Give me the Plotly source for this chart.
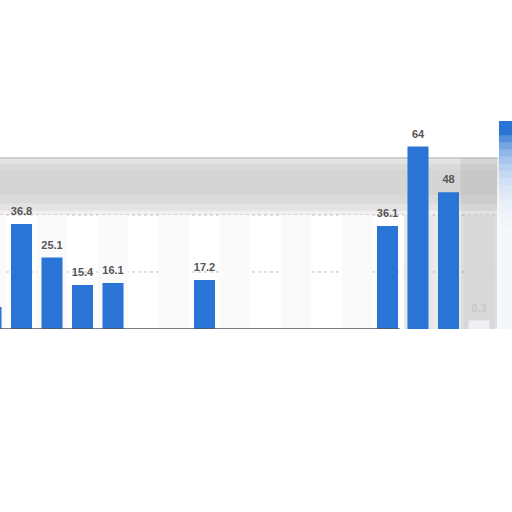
import plotly.graph_objects as go

# slot index of each bar position (chart is cropped on both sides)
slots = [-1, 0, 1, 2, 3, 4, 5, 6, 7, 8, 9, 10, 11, 12, 13, 14, 15, 16]
values = [7.7, 36.8, 25.1, 15.4, 16.1, None, None, 17.2, None, None, None, None, None, 36.1, 64, 48, 3, 73]
labels = ["", "36.8", "25.1", "15.4", "16.1", "", "", "17.2", "", "", "", "", "", "36.1", "64", "48", "0.3", ""]
grid_values = [20, 40]

BLUE = "#2a74d5"
X0, X1 = -0.705, 16.082
Y1 = 115.4

colors = [BLUE] * len(slots)
colors[slots.index(15)] = "#eef0f3"
label_colors = ["#555555"] * len(slots)
label_colors[slots.index(15)] = "#c8c8c8"

fig = go.Figure()
fig.add_trace(go.Bar(
    x=slots, y=values, width=0.69,
    marker=dict(color=colors, line=dict(width=0)),
    hoverinfo="skip",
))
fig.add_trace(go.Scatter(
    x=slots, y=values, mode="markers+text",
    marker=dict(size=8, color="rgba(0,0,0,0)"),
    text=labels, textposition="top center", cliponaxis=False,
    textfont=dict(family="Liberation Sans", size=11, color=label_colors, weight="bold"),
    hoverinfo="skip",
))

shapes = []
# faint alternating column shading
for s in range(-1, 17, 2):
    shapes.append(dict(type="rect", xref="x", yref="y", x0=s - 0.5, x1=s + 0.5, y0=0, y1=40,
                       fillcolor="#fafafa", line=dict(width=0), layer="below"))
# blurred grey band between 40 and 60
for (a, b, op) in [(40, 60, 0.06), (41.5, 59.5, 0.05), (44, 58, 0.04), (47, 56, 0.02)]:
    shapes.append(dict(type="rect", xref="paper", yref="y", x0=0, x1=1, y0=a, y1=b,
                       fillcolor=f"rgba(0,0,0,{op})", line=dict(width=0), layer="below"))
# grey blurred area on the right
shapes.append(dict(type="rect", xref="x", yref="y", x0=12.55, x1=15.7, y0=0, y1=40,
                   fillcolor="rgba(0,0,0,0.08)", line=dict(width=0), layer="below"))
shapes.append(dict(type="rect", xref="x", yref="y", x0=14.4, x1=15.7, y0=0, y1=60,
                   fillcolor="rgba(0,0,0,0.06)", line=dict(width=0), layer="below"))
# line at 60
shapes.append(dict(type="line", xref="paper", yref="y", x0=0, x1=0.975, y0=60, y1=60,
                   line=dict(color="#c2c2c2", width=1.5), layer="below"))
# dotted gridlines
for g in grid_values:
    shapes.append(dict(type="line", xref="paper", yref="y", x0=0, x1=1, y0=g, y1=g,
                       line=dict(color="#bdbdbd", width=1, dash="dot"), layer="below"))
# baseline
shapes.append(dict(type="line", xref="x", yref="y", x0=X0, x1=12.4, y0=0, y1=0,
                   line=dict(color="#555555", width=1.5)))
# washed-out lower part of the last (cut-off) bar (smooth fade)
for k in range(14):
    top = 68 - k * 2.5
    shapes.append(dict(type="rect", xref="x", yref="y", x0=15.6, x1=16.5, y0=0, y1=top,
                       fillcolor="rgba(255,255,255,0.2)", line=dict(width=0), layer="above"))

fig.update_layout(
    width=512, height=512,
    margin=dict(l=0, r=0, t=0, b=183),
    paper_bgcolor="white", plot_bgcolor="white",
    showlegend=False,
    shapes=shapes,
    xaxis=dict(range=[X0, X1], visible=False, fixedrange=True),
    yaxis=dict(range=[0, Y1], visible=False, fixedrange=True),
)
fig.write_html("out.html", config={"displayModeBar": False},
               post_script="document.body.style.margin='0';document.body.style.overflow='hidden';")
